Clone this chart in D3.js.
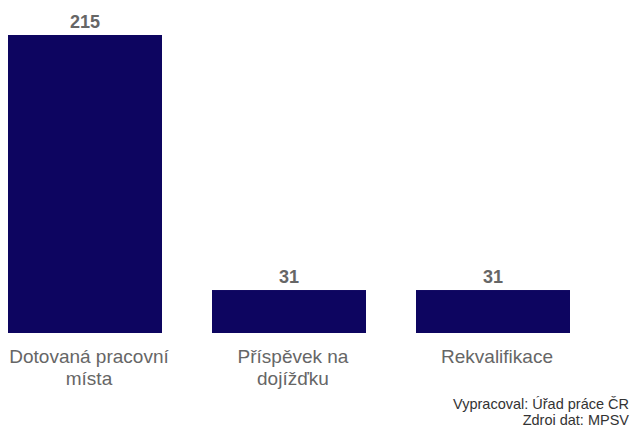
<!DOCTYPE html>
<html>
<head>
<meta charset="utf-8">
<script src="https://cdn.jsdelivr.net/npm/d3@7"></script>
<style>
  body { margin: 0; background: #fff; }
  text { font-family: "Liberation Sans", Arial, sans-serif; }
</style>
</head>
<body>
<script>
var categories = ["Dotovaná pracovní místa", "Příspěvek na dojížďku", "Rekvalifikace"];
var labelLines = [["Dotovaná pracovní", "místa"], ["Příspěvek na", "dojížďku"], ["Rekvalifikace"]];
var values = [215, 31, 31];
var sourceLines = ["Vypracoval: Úřad práce ČR", "Zdroi dat: MPSV"];

var width = 631, height = 428;
var baseY = 333, topY = 35;

var svg = d3.select("body")
    .append("svg")
    .attr("width", width)
    .attr("height", height);

var x = d3.scaleBand()
    .domain(categories)
    .range([8, 570])
    .paddingInner(50 / 204)
    .paddingOuter(0);

var y = d3.scaleLinear()
    .domain([0, 215])
    .range([baseY, topY]);

svg.selectAll("rect.bar")
    .data(values)
    .enter()
    .append("rect")
    .attr("class", "bar")
    .attr("x", function(d, i) { return x(categories[i]); })
    .attr("y", function(d) { return y(d); })
    .attr("width", x.bandwidth())
    .attr("height", function(d) { return baseY - y(d); })
    .attr("fill", "#0d0560");

svg.selectAll("text.val")
    .data(values)
    .enter()
    .append("text")
    .attr("class", "val")
    .attr("x", function(d, i) { return x(categories[i]) + x.bandwidth() / 2; })
    .attr("y", function(d) { return y(d) - 7; })
    .attr("text-anchor", "middle")
    .attr("font-size", 18)
    .attr("font-weight", "bold")
    .attr("fill", "#666")
    .text(function(d) { return d; });

// category labels sit a little right of the bar centres in the original
var cat = svg.selectAll("text.cat")
    .data(labelLines)
    .enter()
    .append("text")
    .attr("class", "cat")
    .attr("x", function(d, i) { return x(categories[i]) + x.bandwidth() / 2 + 4; })
    .attr("y", 363)
    .attr("text-anchor", "middle")
    .attr("font-size", 19)
    .attr("fill", "#666");

cat.selectAll("tspan")
    .data(function(d) { return d; })
    .enter()
    .append("tspan")
    .attr("x", function() { return d3.select(this.parentNode).attr("x"); })
    .attr("dy", function(d, i) { return i === 0 ? 0 : 22; })
    .text(function(d) { return d; });

svg.selectAll("text.src")
    .data(sourceLines)
    .enter()
    .append("text")
    .attr("class", "src")
    .attr("x", 629)
    .attr("y", function(d, i) { return 409 + i * 16; })
    .attr("text-anchor", "end")
    .attr("font-size", 14.5)
    .attr("fill", "#333")
    .text(function(d) { return d; });
</script>
</body>
</html>
